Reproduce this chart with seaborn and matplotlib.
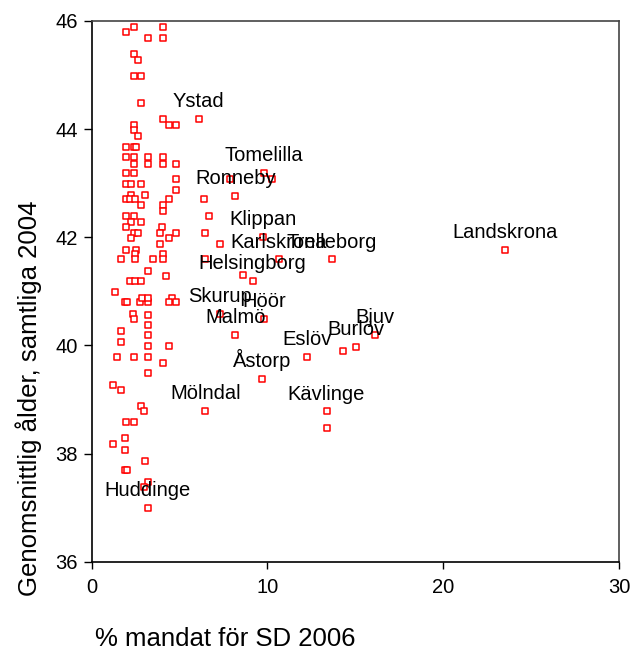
"""
Mandat för SD 2006 mot genomsnittlig ålder per kommun
"""

# ----------------------------------------------------
# Import Libraries
# ----------------------------------------------------

import pandas as pd
import matplotlib
matplotlib.use("Agg")
import matplotlib.pyplot as plt
import seaborn as sns

# ----------------------------------------------------
# Data
# ----------------------------------------------------

# named municipalities
named_kommun = ["Ystad", "Tomelilla", "Ronneby", "Klippan", "Karlskrona",
                "Trelleborg", "Helsingborg", "Skurup", "Höör", "Malmö",
                "Bjuv", "Burlöv", "Eslöv", "Åstorp", "Kävlinge",
                "Mölndal", "Huddinge", "Landskrona"]
named_mandat = [6.09, 9.81, 8.18, 9.75, 10.66,
                13.68, 9.15, 7.32, 9.79, 8.18,
                16.10, 15.03, 12.25, 9.68, 13.36,
                6.47, 3.20, 23.54]
named_alder = [44.19, 43.19, 42.77, 42.00, 41.59,
               41.59, 41.20, 40.58, 40.49, 40.20,
               40.19, 39.97, 39.78, 39.38, 38.78,
               38.79, 36.99, 41.76]

# other municipalities (no label)
other_mandat = [1.97, 2.41, 4.08, 3.23, 4.08, 2.39, 2.64, 2.39, 2.83, 2.83,
                4.08, 4.42, 4.82, 2.41, 2.41, 2.64, 1.97, 2.41, 2.54,
                1.97, 2.39, 3.23, 4.08, 2.39, 3.23, 4.08, 4.82,
                1.97, 2.39, 4.82, 1.97, 2.26, 2.83, 4.82, 2.26, 3.02,
                1.97, 2.16, 2.45, 4.42, 6.39, 2.83, 4.08, 4.08, 6.66,
                1.97, 2.39, 2.26, 2.83, 4.00, 1.97, 2.39, 2.64, 3.91,
                4.82, 6.47, 4.38, 2.26, 3.91, 1.97, 2.54, 2.45, 4.08,
                4.08, 1.65, 2.45, 3.49, 3.21, 4.23, 2.18, 2.45, 2.83,
                1.31, 1.88, 2.01, 2.77, 3.21, 2.86, 3.21, 4.57, 4.38,
                4.82, 2.35, 2.39, 3.20, 1.65, 3.20, 3.20, 1.65, 3.20,
                4.40, 1.46, 2.39, 3.21, 4.08, 3.20, 1.21, 1.65, 2.83,
                2.98, 1.97, 2.41, 1.92, 1.21, 1.92, 3.05, 1.88, 2.01,
                3.20, 2.98,
                7.85, 10.23, 7.32, 6.43, 8.58, 14.27, 13.36]
other_alder = [45.80, 45.89, 45.89, 45.69, 45.69, 45.39, 45.28, 44.98, 44.98, 44.49,
               44.19, 44.08, 44.08, 44.08, 43.98, 43.88, 43.67, 43.67, 43.67,
               43.48, 43.48, 43.48, 43.48, 43.36, 43.36, 43.36, 43.36,
               43.18, 43.18, 43.07, 42.99, 42.99, 42.99, 42.88, 42.79, 42.79,
               42.70, 42.70, 42.70, 42.70, 42.70, 42.59, 42.59, 42.48, 42.39,
               42.39, 42.39, 42.29, 42.29, 42.19, 42.19, 42.08, 42.08, 42.08,
               42.08, 42.08, 41.98, 41.98, 41.88, 41.77, 41.77, 41.69, 41.69,
               41.59, 41.59, 41.59, 41.59, 41.38, 41.28, 41.20, 41.20, 41.20,
               40.98, 40.80, 40.80, 40.80, 40.80, 40.88, 40.88, 40.88, 40.80,
               40.80, 40.58, 40.48, 40.57, 40.27, 40.38, 40.20, 40.07, 39.98,
               39.98, 39.78, 39.78, 39.78, 39.67, 39.49, 39.26, 39.18, 38.88,
               38.79, 38.58, 38.58, 38.28, 38.17, 38.07, 37.87, 37.69, 37.69,
               37.48, 37.39,
               43.07, 43.07, 41.88, 41.59, 41.30, 39.89, 38.48]

x_ticks = [0, 10, 20, 30]
y_ticks = [36, 38, 40, 42, 44, 46]

# ----------------------------------------------------
# Build DataFrame
# ----------------------------------------------------

df = pd.DataFrame({
    "kommun": named_kommun + [""] * len(other_mandat),
    "mandat": named_mandat + other_mandat,
    "alder": named_alder + other_alder,
})

# ----------------------------------------------------
# Style
# ----------------------------------------------------

sns.set_style("ticks")
plt.rcParams["font.family"] = ["Liberation Sans", "DejaVu Sans"]
plt.rcParams["text.color"] = "black"
plt.rcParams["axes.labelcolor"] = "black"

fig = plt.figure(figsize=(6.3, 6.56), dpi=100)
ax = fig.add_axes([0.1456, 0.1438, 0.8369, 0.8242])

# ----------------------------------------------------
# Scatter
# ----------------------------------------------------

sns.scatterplot(
    data=df,
    x="mandat",
    y="alder",
    marker="s",
    s=24,
    facecolor="white",
    edgecolor="red",
    linewidth=1.1,
    ax=ax
)

# labels centred above the points
for _, row in df[df["kommun"] != ""].iterrows():
    ax.annotate(
        row["kommun"],
        (row["mandat"], row["alder"]),
        xytext=(0, 8.5),
        textcoords="offset points",
        ha="center",
        va="baseline",
        fontsize=14.5,
        color="black"
    )

# ----------------------------------------------------
# Axes
# ----------------------------------------------------

ax.set_xlim(0, 30)
ax.set_ylim(36, 46)
ax.set_xticks(x_ticks)
ax.set_yticks(y_ticks)

for side in ["top", "right", "left", "bottom"]:
    ax.spines[side].set_visible(True)
    ax.spines[side].set_linewidth(1.2)
ax.spines["top"].set_color("#444444")
ax.spines["right"].set_color("#444444")
ax.spines["left"].set_color("black")
ax.spines["bottom"].set_color("black")

ax.tick_params(axis="y", length=6, width=1, pad=4, labelsize=14.5, colors="black")
ax.tick_params(axis="x", length=5, width=1, pad=7, labelsize=14.5, colors="black")

ax.set_xlabel("% mandat för SD 2006", fontsize=18.5, color="black")
ax.set_ylabel("Genomsnittlig ålder, samtliga 2004", fontsize=18.5, color="black")
ax.xaxis.set_label_coords(0.254, -0.12)
ax.yaxis.set_label_coords(-0.095, 0.303)

fig.savefig("out.png", dpi=100)
